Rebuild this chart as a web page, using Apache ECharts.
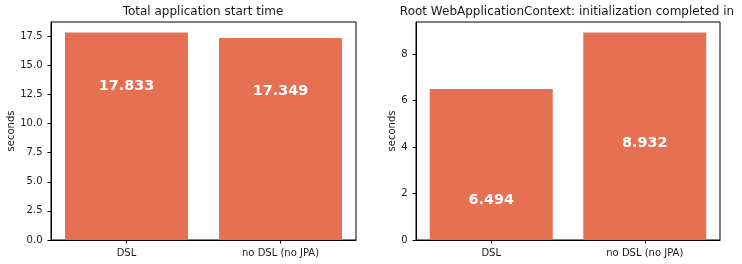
<!DOCTYPE html>
<html><head><meta charset="utf-8">
<script src="https://cdn.jsdelivr.net/npm/echarts@6/dist/echarts.min.js"></script>
<style>html,body{margin:0;padding:0;background:#fff}#c{width:742px;height:264px}</style>
</head><body><div id="c"></div>
<script>
const categories = ['DSL', 'no DSL (no JPA)'];
const titles = ['Total application start time', 'Root WebApplicationContext: initialization completed in'];
const totalStart = [17.833, 17.349];
const contextInit = [6.494, 8.932];
const totalTicks = [0, 2.5, 5, 7.5, 10, 12.5, 15, 17.5];
const contextTicks = [0, 2, 4, 6, 8];
// label centre heights (data units)
const totalLabelY = [13.24, 12.76];
const contextLabelY = [1.72, 4.15];

const FONT = 'DejaVu Sans';
const BAR = '#e67052';
const TXT = '#1a1a1a';
const grids = [
  {left: 51, right: 386, top: 22, bottom: 24},
  {left: 416, right: 22, top: 22, bottom: 24}
];
const panels = [
  {vals: totalStart, ticks: totalTicks, labY: totalLabelY, fmt: v => v.toFixed(1)},
  {vals: contextInit, ticks: contextTicks, labY: contextLabelY, fmt: v => String(v)}
];
const option = {
  animation: false,
  title: titles.map((t, i) => ({
    text: t, left: i === 0 ? 203 : 567, top: 5, padding: 0, textAlign: 'center',
    textStyle: {fontFamily: FONT, fontSize: 12, fontWeight: 'normal', color: TXT, lineHeight: 14}
  })),
  grid: grids.map(g => Object.assign({show: true, borderColor: '#000', borderWidth: 1, backgroundColor: 'transparent'}, g)),
  xAxis: panels.map((p, i) => ({
    type: 'value', gridIndex: i, min: -0.49, max: 1.49,
    splitLine: {show: false},
    axisLine: {show: true, onZero: false, lineStyle: {color: '#000', width: 1}},
    axisTick: {show: true, length: 3.5, lineStyle: {color: '#000'}, customValues: [0, 1]},
    axisLabel: {customValues: [0, 1], formatter: v => categories[Math.round(v)], margin: 8.5,
      fontFamily: FONT, fontSize: 10, color: TXT}
  })),
  yAxis: panels.map((p, i) => ({
    type: 'value', gridIndex: i, min: 0, max: Math.max(...p.vals) * 1.05,
    name: 'seconds', nameLocation: 'middle', nameGap: i === 0 ? 34 : 18,
    nameTextStyle: {fontFamily: FONT, fontSize: 10, color: TXT},
    splitLine: {show: false},
    axisLine: {show: true, onZero: false, lineStyle: {color: '#000', width: 1}},
    axisTick: {show: true, length: 3.5, lineStyle: {color: '#000'}, customValues: p.ticks},
    axisLabel: {customValues: p.ticks, formatter: p.fmt, margin: 8.5,
      fontFamily: FONT, fontSize: 10, color: TXT}
  })),
  series: []
};
panels.forEach((p, i) => {
  option.series.push({
    type: 'bar', xAxisIndex: i, yAxisIndex: i, barWidth: 123,
    itemStyle: {color: BAR},
    data: p.vals.map((v, k) => [k, v])
  });
  option.series.push({
    type: 'scatter', xAxisIndex: i, yAxisIndex: i, symbolSize: 0,
    itemStyle: {color: BAR, opacity: 1}, z: 10,
    label: {show: true, position: 'inside', fontFamily: FONT, fontSize: 14.4, fontWeight: 'bold', color: '#ffffff',
      opacity: 1, textBorderWidth: 0, textShadowBlur: 0,
      formatter: prm => p.vals[prm.dataIndex].toFixed(3)},
    data: p.labY.map((y, k) => [k, y])
  });
});
echarts.init(document.getElementById('c'), null, {renderer: 'canvas'}).setOption(option);
</script></body></html>
